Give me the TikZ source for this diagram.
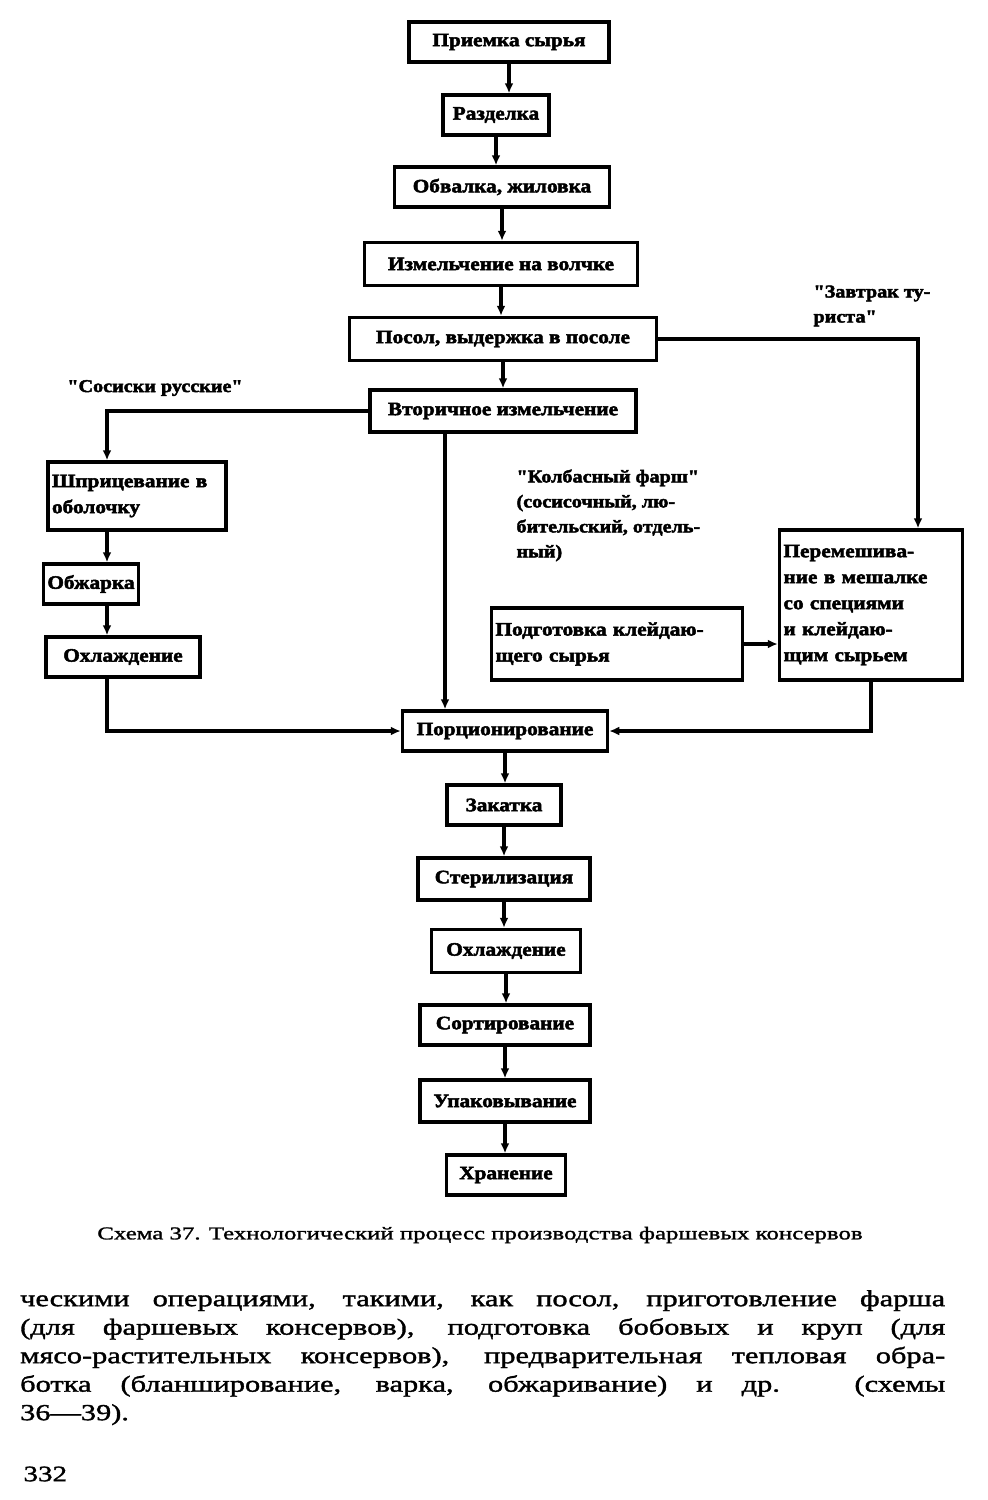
\documentclass[tikz,border=0pt]{standalone}
\usepackage{fontspec}
\setmainfont{Liberation Serif}
\newfontfamily\boxfont[FakeStretch=1.12,FakeBold=2.5]{Liberation Serif}
\newfontfamily\capfont[FakeStretch=1.38,FakeBold=1.5]{Liberation Serif}
\newfontfamily\txtfont[FakeStretch=1.32,FakeBold=1.5]{Liberation Serif}
\usetikzlibrary{arrows.meta}

\begin{document}
\begin{tikzpicture}[x=1pt,y=-1pt,
    stage/.style={draw, line width=3.5pt, minimum height=40pt, inner sep=4pt,
      font=\boxfont\bfseries\fontsize{19}{26}\selectfont},
    note/.style={font=\boxfont\bfseries\fontsize{18}{25}\selectfont},
    arr/.style={line width=3.2pt, -{Latex[length=10pt,width=9pt]}}]
          \useasboundingbox (0,0) rectangle (988,1500);
          % main column
          \node[stage, minimum width=200pt] (n1) at (509,42) {Приемка сырья};
          \node[stage, minimum width=106pt] (n2) at (496,115) {Разделка};
          \node[stage, minimum width=215pt] (n3) at (502,187) {Обвалка, жиловка};
          \node[stage, minimum width=273pt, minimum height=43pt] (n4) at (501,264) {Измельчение на волчке};
          \node[stage, minimum width=307pt, minimum height=43pt] (n5) at (503,339) {Посол, выдержка в посоле};
          \node[stage, minimum width=266pt, minimum height=42pt] (n6) at (503,411) {Вторичное измельчение};
          % left branch
          \node[stage, text width=170pt, align=left, minimum height=68pt] (n7) at (137,496) {Шприцевание в\\оболочку};
          \node[stage, minimum width=90pt] (n8) at (91,584) {Обжарка};
          \node[stage, minimum width=154pt] (n9) at (123,657) {Охлаждение};
          % right branch
          \node[stage, text width=243pt, align=left, minimum height=72pt] (n10) at (617,644) {Подготовка клейдаю-\\щего сырья};
          \node[stage, text width=175pt, align=left, minimum height=150pt] (n11) at (871,605) {Перемешива-\\ние в мешалке\\со специями\\и клейдаю-\\щим сырьем};
          % lower column
          \node[stage, minimum width=205pt] (n12) at (505,731) {Порционирование};
          \node[stage, minimum width=114pt] (n13) at (504,805) {Закатка};
          \node[stage, minimum width=172pt, minimum height=42pt] (n14) at (504,879) {Стерилизация};
          \node[stage, minimum width=149pt, minimum height=43pt] (n15) at (506,951) {Охлаждение};
          \node[stage, minimum width=170pt] (n16) at (505,1025) {Сортирование};
          \node[stage, minimum width=170pt, minimum height=42pt] (n17) at (505,1101) {Упаковывание};
          \node[stage, minimum width=119pt] (n18) at (506,1175) {Хранение};
          % products
          \node[note] (t1) at (155,388) {"Сосиски русские"};
          \node[note, align=left, anchor=north west] (t2) at (810,282) {"Завтрак ту-\\риста"};
          \node[note, align=left, anchor=north west] (t3) at (513,466) {"Колбасный фарш"\\(сосисочный, лю-\\бительский, отдель-\\ный)};
          \coordinate (l) at (107,0);
          \coordinate (m) at (445,0);
          \coordinate (r) at (918,0);
          \foreach \a/\b in {n1/n2,n2/n3,n3/n4,n4/n5,n5/n6,n12/n13,n13/n14,n14/n15,n15/n16,n16/n17,n17/n18}
          {
          \draw[arr] (\a.south) -- (\a.south |- \b.north);
          }
          \draw[arr] (n6.west) -| (l |- n7.north);
          \draw[arr] (l |- n7.south) -- (l |- n8.north);
          \draw[arr] (l |- n8.south) -- (l |- n9.north);
          \draw[arr] (l |- n9.south) |- (n12.west);
          \draw[arr] (m |- n6.south) -- (m |- n12.north);
          \draw[arr] (n5.east) -| (r |- n11.north);
          \draw[arr] (n10.east) -- (n10.east -| n11.west);
          \draw[arr] (n11.south) |- (n12.east);
          % caption and page text
          \node[font=\capfont\fontsize{18}{20}\selectfont] (cap) at (480,1235) {Схема 37. Технологический процесс производства фаршевых консервов};
          \node[font=\txtfont\fontsize{23}{28.5}\selectfont, align=left, anchor=north west, inner sep=0pt] (body) at (20,1290) {%
          \makebox[925pt][s]{ческими операциями, такими, как посол, приготовление фарша}\\
          \makebox[925pt][s]{(для фаршевых консервов), подготовка бобовых и круп (для}\\
          \makebox[925pt][s]{мясо-растительных консервов), предварительная тепловая обра-}\\
          \makebox[925pt][s]{ботка (бланширование, варка, обжаривание) и др. (схемы}\\
          36—39).};
          \node[font=\txtfont\fontsize{22}{26}\selectfont, anchor=west] (pg) at (20,1474) {332};
        \end{tikzpicture}
\end{document}
